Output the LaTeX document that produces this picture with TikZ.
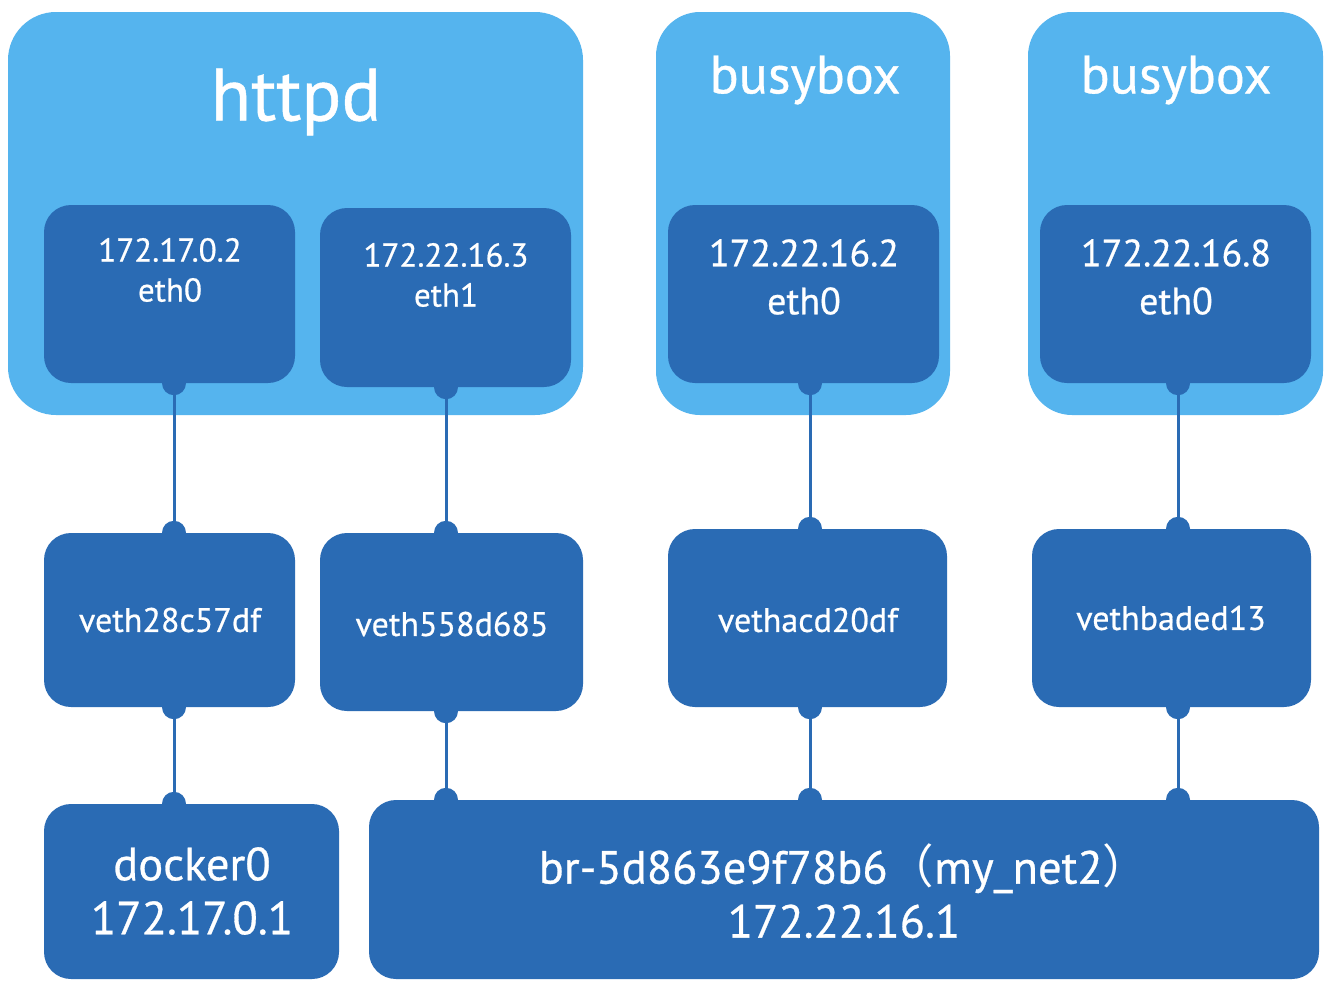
\documentclass[tikz,border=0pt]{standalone}
\usepackage{fontspec}
\setmainfont{PT Sans}[FakeBold=0.6]
\newfontfamily\cjk{Noto Sans CJK SC}
\definecolor{light}{HTML}{55B4EE}
\definecolor{dark}{HTML}{2A6BB4}
\begin{document}
\begin{tikzpicture}[x=1pt,y=-1pt,
  outerbox/.style={fill=light, rounded corners=48pt, inner sep=0pt},
  innerbox/.style={fill=dark, rounded corners=27pt, inner sep=0pt},
  lbl/.style={text=white, align=center, inner sep=0pt},
  wire/.style={dark, line width=3pt},
  dotc/.style={fill=dark}]
\useasboundingbox[fill=white] (0,0) rectangle (1330,988);

% outer containers
\node[outerbox, minimum width=575pt, minimum height=403pt] (httpd) at (295.5,213.5) {};
\node[outerbox, rounded corners=44pt, minimum width=294pt, minimum height=403pt] (bb1) at (803,213.5) {};
\node[outerbox, rounded corners=44pt, minimum width=295pt, minimum height=403pt] (bb2) at (1175.5,213.5) {};

% inner interfaces
\node[innerbox, minimum width=251pt, minimum height=178pt] (in1) at (169.5,294) {};
\node[innerbox, minimum width=251pt, minimum height=179pt] (in2) at (445.5,297.5) {};
\node[innerbox, minimum width=271pt, minimum height=178pt] (in3) at (803.5,294) {};
\node[innerbox, minimum width=271pt, minimum height=178pt] (in4) at (1175.5,294) {};

% veth
\node[innerbox, minimum width=251pt, minimum height=174pt] (v1) at (169.5,620) {};
\node[innerbox, minimum width=263pt, minimum height=178pt] (v2) at (451.5,622) {};
\node[innerbox, minimum width=279pt, minimum height=178pt] (v3) at (807.5,618) {};
\node[innerbox, minimum width=279pt, minimum height=178pt] (v4) at (1171.5,618) {};

% bridges
\node[innerbox, minimum width=295pt, minimum height=175pt] (d0) at (191.5,891.5) {};
\node[innerbox, minimum width=950pt, minimum height=179pt] (br) at (844,889.5) {};

% labels
\node[lbl, font=\fontsize{74}{80}\selectfont] (tHttpd) at (296,102) {httpd};
\node[lbl, font=\fontsize{54}{60}\selectfont] (tBb1) at (805,80) {busybox};
\node[lbl, font=\fontsize{54}{60}\selectfont] (tBb2) at (1176,80) {busybox};
\node[lbl, font=\fontsize{33}{40}\selectfont] (tIn1) at (170,270) {172.17.0.2\\eth0};
\node[lbl, font=\fontsize{33}{40}\selectfont] (tIn2) at (446,275) {172.22.16.3\\eth1};
\node[lbl, font=\fontsize{38}{48}\selectfont] (tIn3) at (804,277) {172.22.16.2\\eth0};
\node[lbl, font=\fontsize{38}{48}\selectfont] (tIn4) at (1176,277) {172.22.16.8\\eth0};
\node[lbl, font=\fontsize{34}{40}\selectfont] (tV1) at (170,620) {veth28c57df};
\node[lbl, font=\fontsize{34}{40}\selectfont] (tV2) at (452,624) {veth558d685};
\node[lbl, font=\fontsize{34}{40}\selectfont] (tV3) at (808,620) {vethacd20df};
\node[lbl, font=\fontsize{34}{40}\selectfont] (tV4) at (1171,618) {vethbaded13};
\node[lbl, font=\fontsize{46.5}{54}\selectfont] (tD0) at (192,891) {docker0\\172.17.0.1};
\node[lbl, font=\fontsize{46.5}{54}\selectfont] (tBr) at (844,891) {br-5d863e9f78b6{\cjk （}my\_net2{\cjk ）}\\172.22.16.1};

% connector columns
\coordinate (c1) at (174,0);
\coordinate (c2) at (446,0);
\coordinate (c3) at (810,0);
\coordinate (c4) at (1178,0);

\foreach \a/\b/\c in {in1/v1/c1, in2/v2/c2, in3/v3/c3, in4/v4/c4, v1/d0/c1, v2/br/c2, v3/br/c3, v4/br/c4}{
  \draw[wire] (\a.south -| \c) -- (\b.north -| \c);
  \fill[dotc] (\a.south -| \c) circle (12pt);
  \fill[dotc] (\b.north -| \c) circle (12pt);
}
\end{tikzpicture}
\end{document}
